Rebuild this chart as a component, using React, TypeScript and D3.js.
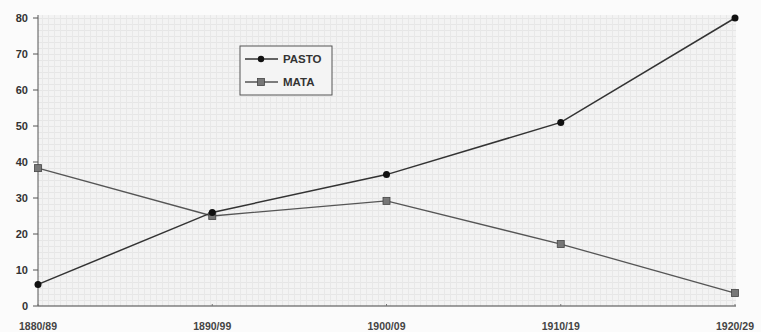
import React from "react";
import * as d3 from "d3";

const categories = ["1880/89", "1890/99", "1900/09", "1910/19", "1920/29"];
const pasto = [6, 26, 36.5, 51, 80];
const mata = [38.3, 25, 29.2, 17.2, 3.6];
const yTicks = [0, 10, 20, 30, 40, 50, 60, 70, 80];
const seriesNames = ["PASTO", "MATA"];

export default function App() {
  const W = 761, H = 332;
  const left = 38, right = 736, top = 15, bottom = 306;
  const x = d3.scalePoint<string>().domain(categories).range([left, 735]);
  const y = d3.scaleLinear().domain([0, 80]).range([bottom, 18]);
  const line = d3.line<number>().x((_, i) => x(categories[i])!).y(d => y(d));
  const font = "'Liberation Sans', Arial, sans-serif";
  return (
    <svg width={W} height={H} style={{ position: "absolute", left: 0, top: 0, background: "#fbfbfb" }}>
      <defs>
        <pattern id="tex" width="6" height="6" patternUnits="userSpaceOnUse">
          <rect width="6" height="6" fill="#f3f3f3" />
          <line x1="0" y1="0.5" x2="6" y2="0.5" stroke="#e6e6e6" strokeWidth="1" />
          <line x1="0.5" y1="0" x2="0.5" y2="6" stroke="#e8e8e8" strokeWidth="1" />
        </pattern>
      </defs>
      <rect x={left} y={top} width={right - left} height={bottom - top} fill="url(#tex)" />
      <line x1={left} y1={top} x2={left} y2={bottom} stroke="#555" strokeWidth={1} />
      <line x1={left} y1={bottom} x2={right} y2={bottom} stroke="#444" strokeWidth={1.2} />
      {yTicks.map(t => (
        <g key={t}>
          <line x1={left - 5} x2={left} y1={y(t)} y2={y(t)} stroke="#555" />
          <text x={28} y={y(t)} dy="0.35em" textAnchor="end" fontFamily={font} fontSize={11} fontWeight="bold" fill="#333">{t}</text>
        </g>
      ))}
      {categories.map(c => (
        <g key={c}>
          <line x1={x(c)} x2={x(c)} y1={bottom - 2} y2={bottom} stroke="#777" />
          <text x={x(c)} y={330} textAnchor="middle" fontFamily={font} fontSize={10.5} fontWeight="bold" fill="#444">{c}</text>
        </g>
      ))}
      <path d={line(mata)!} fill="none" stroke="#555" strokeWidth={1.3} />
      <path d={line(pasto)!} fill="none" stroke="#333" strokeWidth={1.5} />
      {mata.map((v, i) => (
        <rect key={i} x={x(categories[i])! - 3.5} y={y(v) - 3.5} width={7} height={7} fill="#777" stroke="#444" strokeWidth={0.8} />
      ))}
      {pasto.map((v, i) => (
        <circle key={i} cx={x(categories[i])} cy={y(v)} r={3.5} fill="#111" />
      ))}
      <rect x={240} y={46} width={92} height={49} fill="#f4f4f4" stroke="#555" strokeWidth={1} />
      {seriesNames.map((n, i) => {
        const ly = 59 + i * 23;
        return (
          <g key={n}>
            <line x1={245} x2={278} y1={ly} y2={ly} stroke={i === 0 ? "#333" : "#555"} strokeWidth={1.3} />
            {i === 0 ? (
              <circle cx={261} cy={ly} r={3.2} fill="#111" />
            ) : (
              <rect x={257.5} y={ly - 3.5} width={7} height={7} fill="#777" stroke="#444" strokeWidth={0.8} />
            )}
            <text x={283} y={ly} dy="0.36em" fontFamily={font} fontSize={11.5} fontWeight="bold" fill="#333">{n}</text>
          </g>
        );
      })}
    </svg>
  );
}
